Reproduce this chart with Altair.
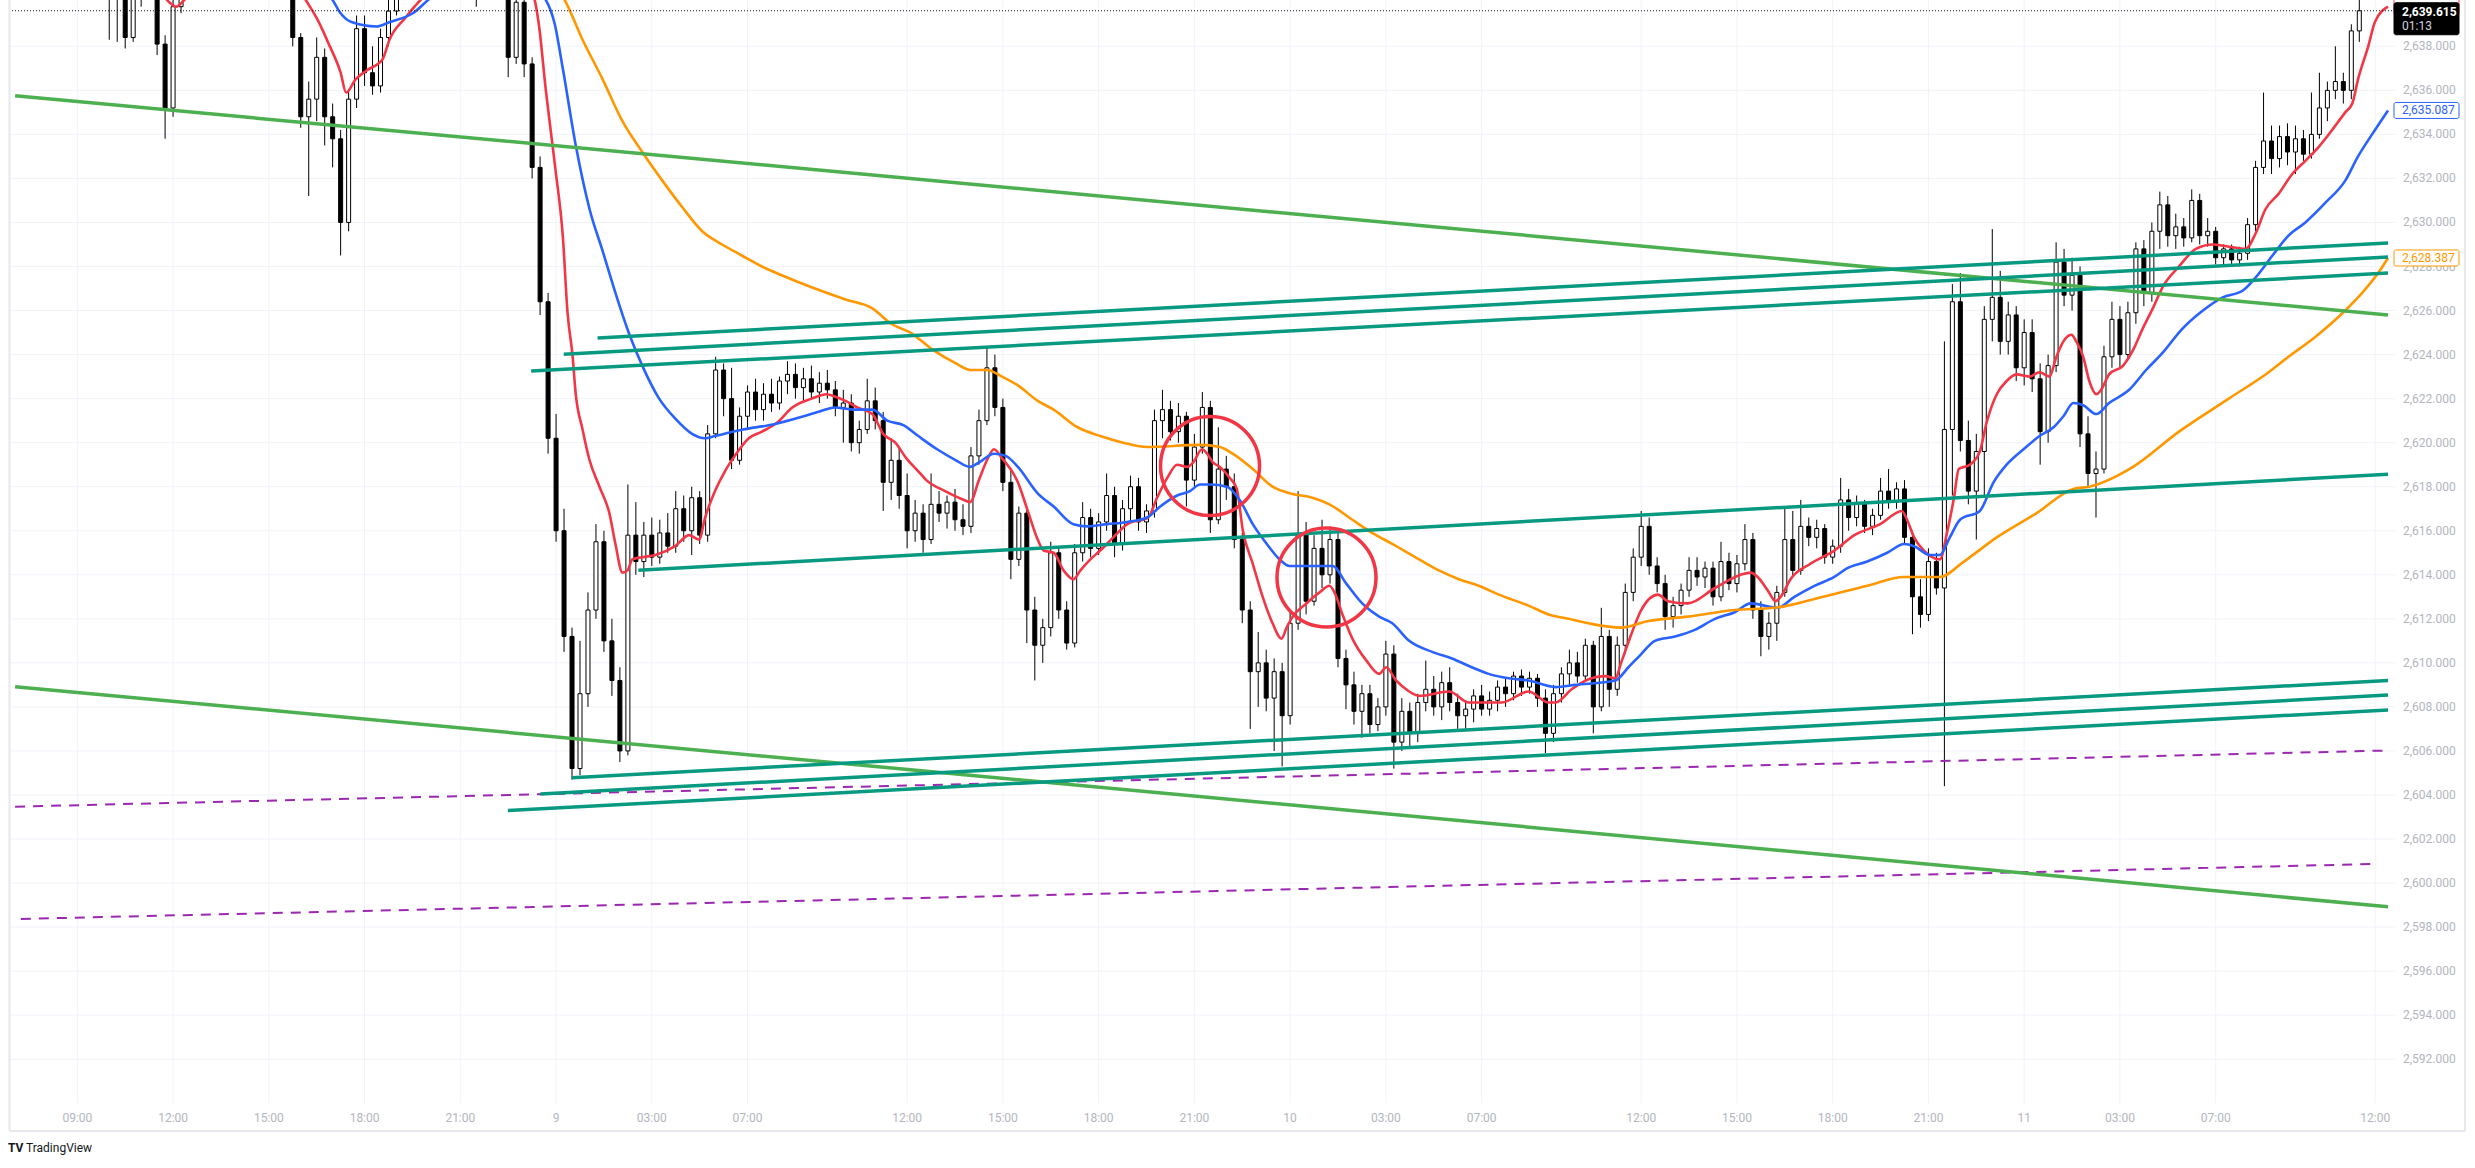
import altair as alt
import pandas as pd

# ---------------- values ----------------
# time axis: trading hours since 09:00 of day 8 (daily 1h break removed)
BAR_START_H = -1.75
BAR_STEP_H = 0.25
FIRST_OPEN = 2642.0

closes = [
    2641.6, 2642.0, 2641.2,
    2641.8, 2642.4, 2641.9, 2641.5,
    2641.0, 2641.4, 2641.1, 2640.8,
    2640.4, 2640.6, 2638.4, 2640.5,
    2640.6, 2640.9, 2638.1, 2635.2,
    2639.8, 2640.8, 2641.4, 2641.9,
    2642.5, 2642.0, 2642.6, 2643.0,
    2642.4, 2641.8, 2642.2, 2641.7,
    2641.2, 2641.5, 2640.8, 2638.4,
    2634.8, 2635.6, 2637.5, 2634.8,
    2633.8, 2630.0, 2635.6, 2638.8,
    2636.8, 2636.2, 2638.4, 2639.6,
    2640.8, 2641.4, 2641.9, 2642.3,
    2641.8, 2642.2, 2641.6, 2641.2,
    2641.5, 2641.0, 2640.6, 2641.2,
    2640.9, 2640.5, 2637.5, 2640.0,
    2637.2, 2632.5, 2626.4, 2620.2,
    2616.0, 2611.2, 2605.2, 2608.6,
    2612.4, 2615.5, 2611.0, 2609.2,
    2606.0, 2615.8, 2614.6, 2615.8,
    2614.8, 2615.9, 2615.3, 2617.0,
    2616.0, 2617.5, 2615.8, 2620.4,
    2623.3, 2622.0, 2619.2, 2621.2,
    2622.3, 2621.5, 2622.2, 2621.8,
    2622.8, 2623.1, 2622.5, 2622.9,
    2622.3, 2622.7, 2622.4, 2621.6,
    2621.8, 2620.0, 2620.6, 2621.9,
    2621.0, 2618.2, 2619.2, 2617.6,
    2616.0, 2616.8, 2615.6, 2617.2,
    2616.8, 2617.3, 2616.5, 2616.2,
    2619.4, 2621.0, 2623.4, 2621.6,
    2618.2, 2614.7, 2616.8, 2612.4,
    2610.8, 2611.6, 2615.0, 2612.4,
    2610.9, 2615.0, 2616.6, 2615.2,
    2616.4, 2617.6, 2615.4, 2617.0,
    2618.0, 2616.4, 2616.9, 2621.0,
    2621.5, 2620.5, 2621.2, 2618.3,
    2619.8, 2621.6, 2616.5, 2618.8,
    2618.0, 2615.6, 2612.4, 2609.6,
    2610.0, 2608.4, 2609.6, 2607.6,
    2611.8, 2615.8, 2612.8, 2615.2,
    2614.0, 2615.6, 2610.2, 2609.0,
    2607.8, 2608.6, 2607.2, 2608.0,
    2610.4, 2606.4, 2607.8, 2606.8,
    2608.2, 2608.8, 2608.0, 2609.1,
    2608.2, 2607.6, 2607.9, 2608.5,
    2607.9, 2608.3, 2608.9, 2608.6,
    2609.4, 2608.9, 2609.3, 2608.4,
    2606.8, 2608.6, 2609.5, 2610.0,
    2609.4, 2610.8, 2608.0, 2611.2,
    2608.8, 2610.8, 2613.2, 2614.8,
    2616.2, 2614.4, 2613.6, 2612.1,
    2612.6, 2613.3, 2614.2, 2613.9,
    2614.3, 2613.0, 2614.6, 2613.6,
    2614.5, 2615.6, 2612.4, 2611.2,
    2611.8, 2613.2, 2615.6, 2614.2,
    2616.2, 2615.7, 2616.1, 2614.8,
    2615.3, 2617.4, 2616.6, 2617.2,
    2616.2, 2616.7, 2617.8, 2617.3,
    2617.9, 2615.7, 2613.0, 2612.2,
    2614.6, 2613.4, 2620.6, 2626.4,
    2620.1, 2617.8, 2619.6, 2625.6,
    2626.6, 2624.6, 2625.8, 2623.4,
    2625.0, 2622.9, 2620.5, 2623.5,
    2628.2, 2626.7, 2627.6, 2620.4,
    2618.6, 2618.8, 2623.9, 2625.6,
    2624.0, 2625.9, 2628.8, 2626.8,
    2629.6, 2630.8, 2629.4, 2629.8,
    2629.3, 2631.0, 2629.4, 2629.6,
    2628.4, 2628.8, 2628.3, 2628.6,
    2629.9, 2632.5, 2633.7, 2632.9,
    2633.9, 2633.2, 2633.8, 2633.1,
    2634.0, 2635.2, 2636.0, 2636.4,
    2636.0, 2638.7, 2639.615,
]

highs = [
    2642.8, 2642.4, 2642.3,
    2642.5, 2643.0, 2642.8, 2642.2,
    2641.8, 2641.9, 2641.7, 2641.4,
    2641.2, 2641.0, 2641.0, 2640.8,
    2641.0, 2641.2, 2641.2, 2638.5,
    2640.3, 2641.2, 2641.9, 2642.6,
    2643.2, 2642.8, 2643.3, 2643.6,
    2643.2, 2642.6, 2642.8, 2642.5,
    2641.9, 2642.0, 2641.6, 2641.2,
    2638.6, 2636.4, 2638.4, 2637.9,
    2635.4, 2634.2, 2636.0, 2639.4,
    2639.4, 2638.0, 2638.8, 2640.3,
    2641.2, 2641.9, 2642.5, 2643.0,
    2642.6, 2642.8, 2642.5, 2641.9,
    2642.0, 2641.7, 2641.5, 2641.6,
    2641.5, 2641.2, 2640.8, 2640.6,
    2640.8, 2637.5, 2633.0, 2626.8,
    2621.3, 2617.0, 2611.6, 2611.0,
    2613.2, 2616.3, 2616.0, 2612.0,
    2609.8, 2618.1, 2617.3, 2616.4,
    2616.6, 2616.5, 2616.8, 2617.8,
    2617.6, 2618.0, 2617.8, 2620.8,
    2623.9, 2623.6, 2623.4, 2621.6,
    2622.6, 2622.9, 2622.7, 2622.9,
    2623.0, 2623.7, 2623.6, 2623.4,
    2623.5, 2623.2, 2623.3, 2622.8,
    2622.4, 2622.2, 2621.0, 2622.9,
    2622.5, 2621.4, 2620.2, 2619.8,
    2618.6, 2617.4, 2617.2, 2618.6,
    2617.8, 2617.6, 2617.9, 2617.2,
    2619.8, 2621.5, 2624.3, 2624.0,
    2622.0, 2618.8, 2617.1, 2617.0,
    2613.0, 2612.0, 2615.5, 2615.3,
    2612.8, 2615.4, 2617.3, 2617.0,
    2616.8, 2618.6, 2618.0, 2617.4,
    2618.5, 2618.4, 2617.2, 2621.5,
    2622.4, 2621.9, 2621.8, 2621.4,
    2620.4, 2622.3, 2621.9, 2620.7,
    2619.4, 2618.6, 2615.9, 2612.8,
    2611.4, 2610.6, 2610.2, 2610.0,
    2612.4, 2617.8, 2616.4, 2615.8,
    2616.5, 2616.2, 2616.0, 2610.6,
    2609.6, 2609.0, 2609.0, 2608.4,
    2611.0, 2610.8, 2608.4, 2608.2,
    2608.6, 2610.1, 2609.4, 2609.6,
    2609.8, 2608.6, 2608.3, 2608.8,
    2609.0, 2608.7, 2609.2, 2609.3,
    2609.6, 2609.7, 2609.6, 2609.5,
    2608.8, 2609.0, 2609.8, 2610.6,
    2610.5, 2611.1, 2611.0, 2612.5,
    2611.5, 2611.2, 2613.6, 2615.2,
    2616.9, 2616.6, 2614.8, 2614.0,
    2613.0, 2613.6, 2614.8, 2614.8,
    2614.6, 2614.6, 2615.5, 2615.0,
    2614.9, 2616.3, 2615.9, 2612.8,
    2612.3, 2613.5, 2617.0, 2616.9,
    2617.4, 2616.6, 2616.5, 2616.3,
    2615.6, 2618.4, 2617.9, 2617.6,
    2617.4, 2617.0, 2618.4, 2618.8,
    2618.2, 2618.3, 2616.0, 2613.8,
    2615.2, 2615.0, 2624.6, 2627.2,
    2627.7, 2621.0, 2620.4, 2626.2,
    2629.7, 2627.8, 2626.4, 2626.2,
    2625.6, 2625.6, 2623.6, 2624.0,
    2629.1, 2628.8, 2628.4, 2628.0,
    2621.2, 2619.6, 2624.4, 2626.4,
    2626.2, 2626.4, 2629.1, 2629.2,
    2630.0, 2631.4, 2631.2, 2630.4,
    2630.2, 2631.5, 2631.3, 2630.2,
    2629.8, 2629.0, 2629.0, 2628.9,
    2630.2, 2632.8, 2635.9, 2634.4,
    2634.4, 2634.5, 2634.4, 2634.2,
    2635.9, 2636.8, 2636.4, 2638.0,
    2636.8, 2639.0, 2640.6,
]

lows = [
    2641.0, 2640.9, 2640.8,
    2641.0, 2641.5, 2641.4, 2640.9,
    2640.6, 2640.7, 2640.6, 2640.4,
    2638.3, 2638.2, 2637.9, 2638.2,
    2639.8, 2640.2, 2637.6, 2633.8,
    2634.8, 2639.5, 2640.6, 2641.1,
    2641.6, 2641.5, 2641.8, 2642.2,
    2641.9, 2641.3, 2641.5, 2641.2,
    2640.7, 2640.8, 2640.4, 2638.0,
    2634.3, 2631.2, 2634.6, 2633.5,
    2632.5, 2628.5, 2629.6, 2635.2,
    2636.2, 2635.8, 2635.9, 2638.0,
    2639.4, 2640.5, 2641.0, 2641.5,
    2641.2, 2641.4, 2641.0, 2640.6,
    2640.8, 2640.5, 2639.8, 2640.4,
    2640.4, 2640.2, 2636.6, 2637.2,
    2636.6, 2632.0, 2625.8, 2619.5,
    2615.5, 2610.5, 2604.7, 2604.9,
    2608.0, 2612.0, 2610.5, 2608.5,
    2605.5, 2605.8, 2614.0, 2613.9,
    2614.4, 2614.5, 2615.0, 2615.0,
    2615.5, 2614.9, 2615.4, 2615.5,
    2620.2, 2621.2, 2618.8, 2619.0,
    2620.6, 2621.0, 2621.0, 2621.4,
    2621.5, 2622.2, 2622.0, 2621.9,
    2622.0, 2621.8, 2622.0, 2621.2,
    2620.0, 2619.6, 2619.5, 2620.4,
    2620.6, 2616.9, 2617.4, 2617.0,
    2615.2, 2615.5, 2615.0, 2615.4,
    2616.4, 2616.1, 2616.0, 2615.8,
    2615.9, 2619.0, 2620.8, 2621.2,
    2617.8, 2613.8, 2614.4, 2610.9,
    2609.2, 2610.0, 2611.2, 2612.0,
    2610.6, 2610.7, 2614.6, 2614.8,
    2614.9, 2616.0, 2614.8, 2615.1,
    2616.4, 2616.0, 2615.9, 2616.6,
    2620.2, 2620.1, 2620.0, 2617.1,
    2618.0, 2619.5, 2615.9, 2616.3,
    2617.4, 2615.2, 2611.8, 2607.0,
    2608.0, 2607.8, 2606.0, 2605.3,
    2607.2, 2611.5, 2612.2, 2612.6,
    2613.4, 2613.6, 2609.8, 2607.9,
    2607.2, 2606.6, 2606.8, 2606.9,
    2607.6, 2605.2, 2606.0, 2606.2,
    2606.4, 2607.8, 2607.6, 2607.4,
    2607.8, 2607.0, 2607.0, 2607.3,
    2607.6, 2607.6, 2607.8, 2608.0,
    2608.3, 2608.5, 2608.6, 2608.0,
    2605.9, 2606.4, 2608.2, 2609.0,
    2609.1, 2609.2, 2606.8, 2607.8,
    2608.0, 2608.5, 2610.4, 2612.8,
    2614.4, 2614.0, 2613.2, 2611.5,
    2611.6, 2612.2, 2613.0, 2613.5,
    2613.4, 2612.6, 2612.8, 2613.3,
    2613.2, 2614.2, 2612.0, 2610.3,
    2610.6, 2611.0, 2613.0, 2613.9,
    2614.0, 2615.3, 2615.2, 2614.5,
    2614.5, 2615.0, 2616.0, 2616.2,
    2615.9, 2615.8, 2616.5, 2617.0,
    2617.0, 2615.4, 2611.3, 2611.6,
    2611.9, 2613.1, 2604.4, 2617.6,
    2619.6, 2617.2, 2615.6, 2617.6,
    2624.6, 2624.0, 2624.0, 2622.8,
    2622.6, 2622.3, 2619.0, 2620.0,
    2623.2, 2626.2, 2626.0, 2619.8,
    2618.0, 2616.6, 2618.6, 2623.4,
    2623.4, 2623.8, 2625.4, 2626.2,
    2626.4, 2628.8, 2628.9, 2628.8,
    2628.9, 2629.1, 2629.0, 2628.9,
    2628.1, 2628.0, 2628.0, 2628.0,
    2628.3, 2629.6, 2632.2, 2632.2,
    2632.5, 2632.6, 2632.2, 2632.8,
    2632.9, 2633.8, 2634.6, 2635.6,
    2635.4, 2635.6, 2638.2,
]

# moving averages (hour, price)
red_ma = [
    (-1.95, 2641.5), (2.41, 2640.8), (2.88, 2640.0), (3.10, 2639.8), (3.35, 2640.1), (3.98, 2641.0),
    (6.78, 2641.0), (7.16, 2640.1), (7.53, 2639.2), (7.88, 2638.1), (8.25, 2636.8), (8.42, 2635.9),
    (8.72, 2636.5), (9.06, 2636.9), (9.56, 2637.4), (9.78, 2638.3), (10.28, 2639.3), (10.75, 2640.1),
    (11.46, 2641.0), (13.80, 2641.5), (14.33, 2640.1), (14.46, 2639.0), (14.68, 2636.0), (14.83, 2634.2),
    (14.99, 2632.3), (15.21, 2629.4), (15.36, 2625.9), (15.52, 2623.9), (15.61, 2622.3), (15.83, 2620.6),
    (16.05, 2619.2), (16.36, 2618.0), (16.67, 2616.8), (16.86, 2615.4), (17.08, 2614.1), (17.24, 2614.2),
    (17.39, 2614.7), (17.70, 2614.8), (18.11, 2614.9), (18.73, 2615.3), (19.17, 2615.8), (19.48, 2615.6),
    (19.67, 2616.6), (19.98, 2617.8), (20.29, 2618.7), (20.60, 2619.4), (21.04, 2620.2), (21.45, 2620.5),
    (21.92, 2620.9), (22.40, 2621.6), (23.01, 2622.0), (23.48, 2622.2), (23.73, 2622.1), (24.07, 2621.9),
    (24.44, 2621.6), (24.91, 2621.3), (25.25, 2620.4), (25.63, 2620.0), (25.97, 2619.3), (26.35, 2618.7),
    (26.60, 2618.3), (27.19, 2617.8), (27.78, 2617.4), (27.97, 2617.3), (28.25, 2618.3), (28.50, 2619.2),
    (28.72, 2619.7), (28.97, 2619.3), (29.47, 2618.2), (29.78, 2616.9), (30.09, 2615.6), (30.28, 2615.1),
    (30.59, 2615.0), (30.90, 2614.2), (31.21, 2613.8), (31.43, 2614.2), (31.74, 2614.7), (32.05, 2615.1),
    (32.46, 2615.7), (32.90, 2616.3), (33.55, 2616.6), (33.83, 2617.5), (34.15, 2618.4), (34.46, 2619.0),
    (34.77, 2618.9), (34.96, 2619.1), (35.24, 2619.7), (35.40, 2619.5), (35.58, 2619.1), (35.80, 2618.9),
    (36.11, 2618.4), (36.33, 2617.9), (36.52, 2616.0), (36.83, 2614.5), (37.14, 2613.0), (37.45, 2611.8),
    (37.73, 2611.1), (37.89, 2611.6), (38.08, 2612.1), (38.51, 2612.7), (38.92, 2613.2), (39.23, 2613.5),
    (39.39, 2613.2), (39.64, 2612.2), (39.95, 2611.1), (40.39, 2610.1), (40.79, 2609.5), (41.01, 2609.8),
    (41.32, 2609.2), (41.73, 2608.7), (42.04, 2608.5), (42.98, 2608.7), (43.60, 2608.2), (44.63, 2608.2),
    (45.47, 2608.7), (46.10, 2608.2), (46.32, 2608.2), (46.82, 2608.8), (47.44, 2609.3), (47.88, 2609.4),
    (48.19, 2609.3), (48.37, 2610.0), (48.69, 2611.3), (49.00, 2612.4), (49.53, 2613.1), (49.84, 2612.8),
    (50.46, 2612.7), (51.31, 2613.4), (52.12, 2614.0), (52.43, 2614.1), (52.65, 2613.9), (52.96, 2613.3),
    (53.21, 2612.8), (53.37, 2613.0), (53.68, 2613.8), (54.30, 2614.5), (55.05, 2615.1), (55.68, 2615.8),
    (56.49, 2616.3), (57.17, 2616.9), (57.33, 2616.5), (57.55, 2615.7), (57.86, 2615.1), (58.36, 2614.7),
    (58.58, 2615.9), (58.80, 2617.5), (58.95, 2618.8), (59.30, 2619.0), (59.61, 2619.6), (59.82, 2620.9),
    (60.14, 2622.2), (60.45, 2622.8), (60.76, 2623.1), (61.17, 2623.0), (61.48, 2623.2), (61.79, 2623.0),
    (62.01, 2623.9), (62.23, 2624.6), (62.48, 2624.9), (62.63, 2624.6), (62.85, 2623.9), (63.04, 2622.8),
    (63.26, 2622.2), (63.41, 2622.4), (63.66, 2623.1), (64.10, 2623.5), (64.41, 2624.2), (64.72, 2625.2),
    (65.03, 2626.1), (65.35, 2627.1), (65.85, 2628.0), (66.38, 2628.8), (66.91, 2629.0), (67.41, 2628.9),
    (67.94, 2628.8), (68.25, 2629.5), (68.56, 2630.6), (68.97, 2631.3), (69.40, 2632.2), (69.81, 2632.8),
    (70.21, 2633.4), (70.65, 2634.2), (71.06, 2635.0), (71.28, 2635.4), (71.46, 2636.5), (71.78, 2638.0),
    (71.99, 2639.1), (72.40, 2639.8),
]

blue_ma = [
    (-1.95, 2642.5), (7.10, 2641.2), (8.00, 2640.1), (8.25, 2639.5), (8.59, 2639.1), (9.37, 2638.9),
    (9.79, 2639.1), (10.51, 2639.5), (10.99, 2640.1), (11.62, 2640.8), (13.96, 2641.0), (14.68, 2640.1),
    (14.96, 2639.0), (15.21, 2637.0), (15.63, 2633.4), (16.05, 2630.6), (16.46, 2628.7), (16.86, 2626.8),
    (17.30, 2624.9), (17.70, 2623.5), (18.23, 2622.0), (18.73, 2621.1), (19.26, 2620.4), (19.67, 2620.2),
    (19.98, 2620.3), (20.85, 2620.6), (21.70, 2620.8), (22.51, 2621.1), (23.23, 2621.4), (23.73, 2621.6),
    (24.32, 2621.5), (24.91, 2621.5), (25.38, 2621.0), (25.88, 2620.8), (26.35, 2620.3), (26.94, 2619.7),
    (27.53, 2619.2), (27.97, 2618.9), (28.25, 2619.1), (28.72, 2619.5), (29.09, 2619.4), (29.47, 2618.9),
    (30.09, 2617.7), (30.59, 2617.1), (31.21, 2616.3), (31.65, 2616.2), (32.27, 2616.3), (32.90, 2616.4),
    (33.52, 2616.6), (33.93, 2617.1), (34.46, 2617.6), (34.86, 2617.8), (35.18, 2618.1), (35.49, 2618.1),
    (36.02, 2618.0), (36.42, 2617.4), (36.83, 2616.3), (37.27, 2615.4), (37.67, 2614.7), (37.98, 2614.4),
    (39.33, 2614.4), (39.76, 2613.6), (40.26, 2612.7), (40.79, 2612.1), (41.20, 2611.8), (41.73, 2611.0),
    (42.45, 2610.5), (43.07, 2610.2), (43.69, 2609.8), (44.22, 2609.5), (44.85, 2609.3), (45.47, 2609.2),
    (46.32, 2608.9), (46.94, 2609.0), (48.19, 2609.2), (48.60, 2609.8), (49.00, 2610.4), (49.43, 2611.0),
    (50.06, 2611.2), (50.68, 2611.5), (51.31, 2612.0), (51.93, 2612.3), (52.43, 2612.7), (53.27, 2612.5),
    (53.80, 2613.0), (54.43, 2613.5), (55.05, 2613.9), (55.46, 2614.3), (56.08, 2614.6), (56.71, 2615.0),
    (57.24, 2615.4), (57.55, 2615.3), (58.05, 2614.9), (58.36, 2614.9), (58.67, 2615.7), (58.99, 2616.5),
    (59.61, 2616.9), (60.04, 2618.2), (60.45, 2619.0), (60.98, 2619.7), (61.48, 2620.3), (61.92, 2620.7),
    (62.23, 2621.2), (62.54, 2621.8), (62.85, 2621.7), (63.26, 2621.3), (63.66, 2621.8), (64.29, 2622.4),
    (64.82, 2623.3), (65.35, 2624.1), (65.91, 2625.1), (66.60, 2626.0), (67.22, 2626.6), (67.84, 2626.9),
    (68.25, 2627.5), (68.78, 2628.5), (69.28, 2629.4), (69.81, 2630.0), (70.44, 2630.9), (71.06, 2631.9),
    (71.46, 2633.0), (71.90, 2634.0), (72.40, 2635.087),
]

orange_ma = [
    (13.34, 2642.5), (14.59, 2641.3), (15.27, 2640.1), (15.83, 2638.3), (16.46, 2636.5), (17.08, 2634.6),
    (17.70, 2633.2), (18.33, 2631.9), (18.95, 2630.7), (19.58, 2629.6), (20.20, 2629.0), (20.82, 2628.5),
    (21.45, 2628.0), (22.07, 2627.6), (24.07, 2626.5), (24.91, 2626.1), (25.50, 2625.4), (26.10, 2625.0),
    (26.82, 2624.2), (27.53, 2623.6), (28.00, 2623.3), (28.50, 2623.3), (28.97, 2623.0), (29.47, 2622.6),
    (30.09, 2621.9), (30.59, 2621.5), (31.34, 2620.7), (32.05, 2620.3), (32.77, 2620.0), (33.52, 2619.8),
    (35.18, 2619.9), (35.80, 2619.8), (36.20, 2619.5), (36.83, 2618.8), (37.45, 2618.0), (37.98, 2617.7),
    (38.70, 2617.5), (39.23, 2617.2), (39.95, 2616.5), (40.57, 2615.9), (41.20, 2615.4), (42.04, 2614.7),
    (42.66, 2614.2), (43.29, 2613.8), (43.91, 2613.5), (44.54, 2613.1), (45.47, 2612.6), (46.10, 2612.2),
    (46.72, 2612.0), (47.34, 2611.8), (48.37, 2611.6), (49.22, 2611.9), (50.46, 2612.1), (51.93, 2612.4),
    (53.18, 2612.5), (54.43, 2612.9), (56.08, 2613.5), (57.24, 2613.9), (58.36, 2613.9), (59.11, 2614.6),
    (60.14, 2615.7), (61.39, 2616.8), (62.54, 2617.9), (63.04, 2618.0), (64.41, 2618.9), (65.85, 2620.5),
    (67.41, 2622.0), (68.66, 2623.2), (69.28, 2623.9), (70.12, 2624.8), (71.06, 2626.0), (71.59, 2626.8),
    (72.09, 2627.7), (72.40, 2628.387),
]

# drawn trend lines: (h1, price1, h2, price2)
teal_lines = [
    (16.30, 2624.75, 72.40, 2629.07),
    (15.24, 2624.02, 72.40, 2628.43),
    (14.22, 2623.25, 72.40, 2627.70),
    (17.58, 2614.21, 72.40, 2618.57),
    (15.49, 2604.78, 72.40, 2609.20),
    (14.51, 2604.04, 72.40, 2608.54),
    (13.49, 2603.29, 72.40, 2607.86),
]
green_lines = [
    (-1.95, 2635.75, 72.40, 2625.80),
    (-1.95, 2608.92, 72.40, 2598.92),
]
purple_lines = [
    (-1.95, 2603.47, 72.40, 2606.02),
    (-1.77, 2598.37, 72.09, 2600.87),
]
circle_h = [35.49, 39.14]
circle_v = [2618.94, 2613.88]

tick_h = [0, 3, 6, 9, 12, 15, 18, 21, 26, 29, 32, 35, 38, 41, 44, 49, 52, 55, 58, 61, 64, 67, 72]
tick_text = ["09:00", "12:00", "15:00", "18:00", "21:00", "9", "03:00", "07:00",
             "12:00", "15:00", "18:00", "21:00", "10", "03:00", "07:00",
             "12:00", "15:00", "18:00", "21:00", "11", "03:00", "07:00", "12:00"]
price_ticks = list(range(2592, 2640, 2))

last_price = 2639.615
countdown = "01:13"
blue_last = 2635.087
orange_last = 2628.387
red_last = 2639.8

# ---------------- layout ----------------
W, H = 2385, 1103
X_MIN, X_MAX = -1.953, 72.462
Y_MIN, Y_MAX = 2590.012, 2640.103
xs = alt.Scale(domain=[X_MIN, X_MAX], nice=False, zero=False)
ys = alt.Scale(domain=[Y_MIN, Y_MAX], nice=False, zero=False)
FONT = "Roboto"
LABEL = "#b2b5be"
GRID = "#f0f3fa"

# ---------------- tables ----------------
rows = []
prev = FIRST_OPEN
for i, (c, hi, lo) in enumerate(zip(closes, highs, lows)):
    o = prev
    rows.append({"h": BAR_START_H + i * BAR_STEP_H, "open": o, "close": c,
                 "high": max(hi, o, c), "low": min(lo, o, c),
                 "dir": "up" if c >= o else "down"})
    prev = c
candles = pd.DataFrame(rows)

ma_rows = []
for name, pts in (("red", red_ma), ("blue", blue_ma), ("orange", orange_ma)):
    for h, v in pts:
        ma_rows.append({"ma": name, "h": h, "v": v})
ma_df = pd.DataFrame(ma_rows)


def seg_df(lines):
    return pd.DataFrame([{"id": k, "h1": a, "v1": b, "h2": c, "v2": d}
                         for k, (a, b, c, d) in enumerate(lines)])


X = lambda f: alt.X(f, scale=xs, axis=None)
Y = lambda f: alt.Y(f, scale=ys, axis=None)

# grid + price scale labels
hgrid = alt.Chart(pd.DataFrame({"v": price_ticks})).mark_rule(color=GRID, strokeWidth=1).encode(y=Y("v:Q"))
vgrid = alt.Chart(pd.DataFrame({"h": tick_h})).mark_rule(color=GRID, strokeWidth=1).encode(x=X("h:Q"))
price_labels = alt.Chart(pd.DataFrame({"v": price_ticks})).mark_text(
    align="left", baseline="middle", font=FONT, fontSize=12, color=LABEL
).encode(x=alt.value(W + 8), y=Y("v:Q"), text=alt.Text("v:Q", format=",.3f"))

wicks = alt.Chart(candles).mark_rule(color="#000000", strokeWidth=1, clip=True).encode(
    x=X("h:Q"), y=Y("low:Q"), y2="high:Q",
)
bodies = alt.Chart(candles).mark_bar(size=4, stroke="#000000", strokeWidth=1, clip=True).encode(
    x=X("h:Q"), y=Y("open:Q"), y2="close:Q",
    fill=alt.Fill("dir:N", scale=alt.Scale(domain=["up", "down"], range=["#ffffff", "#000000"]), legend=None),
)
mas = alt.Chart(ma_df).mark_line(strokeWidth=2.6, clip=True, interpolate="monotone").encode(
    x=X("h:Q"), y=Y("v:Q"),
    color=alt.Color("ma:N", scale=alt.Scale(domain=["orange", "blue", "red"],
                                            range=["#ff9800", "#2962ff", "#f23645"]), legend=None),
    detail="ma:N",
)


def seg_layer(lines, color, width, dash=None):
    kw = dict(color=color, strokeWidth=width, clip=True)
    if dash:
        kw["strokeDash"] = dash
    return alt.Chart(seg_df(lines)).mark_rule(**kw).encode(
        x=X("h1:Q"), x2="h2:Q", y=Y("v1:Q"), y2="v2:Q",
    )


purple = seg_layer(purple_lines, "#9c27b0", 2, [10, 8])
green = seg_layer(green_lines, "#4caf50", 3.5)
teal = seg_layer(teal_lines, "#089981", 3.5)

circles = alt.Chart(pd.DataFrame({"h": circle_h, "v": circle_v})).mark_point(
    shape="circle", size=9800, filled=False, stroke="#f23645", strokeWidth=3.5, opacity=1, clip=True
).encode(x=X("h:Q"), y=Y("v:Q"))

price_line = alt.Chart(pd.DataFrame({"v": [last_price]})).mark_rule(
    color="#131722", strokeWidth=1, strokeDash=[1, 2]
).encode(y=Y("v:Q"))


# price tags on the scale
def tag(value, stroke, fill, top, bottom):
    return alt.Chart(pd.DataFrame({"v": [value], "v2": [value]})).mark_rect(
        fill=fill, stroke=stroke, strokeWidth=1, cornerRadius=2, yOffset=top, y2Offset=bottom
    ).encode(x=alt.value(W - 1), x2=alt.value(W + 64), y=Y("v:Q"), y2="v2:Q")


def tag_text(value, txt, color, dy, bold=False):
    return alt.Chart(pd.DataFrame({"v": [value], "t": [txt]})).mark_text(
        align="left", baseline="middle", font=FONT, fontSize=12, color=color,
        fontWeight="bold" if bold else "normal", dy=dy
    ).encode(x=alt.value(W + 7), y=Y("v:Q"), text="t:N")


red_tag = tag(red_last, "#f23645", "#ffffff", -8, 8)
black_tag = tag(last_price, "#000000", "#000000", -8, 24)
black_t1 = tag_text(last_price, f"{last_price:,.3f}", "#ffffff", 1, bold=True)
black_t2 = tag_text(last_price, countdown, "#d1d4dc", 15)
blue_tag = tag(blue_last, "#2962ff", "#ffffff", -8, 8)
blue_t = tag_text(blue_last, f"{blue_last:,.3f}", "#2962ff", 0)
orange_tag = tag(orange_last, "#ff9800", "#ffffff", -8, 8)
orange_t = tag_text(orange_last, f"{orange_last:,.3f}", "#ff9800", 0)

time_labels = alt.Chart(pd.DataFrame({"h": tick_h, "t": tick_text})).mark_text(
    align="center", baseline="middle", font=FONT, fontSize=12, color=LABEL
).encode(x=X("h:Q"), y=alt.value(1118), text="t:N")

frame_df = pd.DataFrame({"x": [-0.5, -0.5, W + 70], "x2": [-0.5, W + 70, W + 70],
                         "y": [0, 1131, 0], "y2": [1131, 1131, 1131]})
frame = alt.Chart(frame_df).mark_rule(color="#e6e8ee", strokeWidth=2).encode(
    x=alt.X("x:Q", scale=None, axis=None), x2="x2:Q",
    y=alt.Y("y:Q", scale=None, axis=None), y2="y2:Q",
)

logo = alt.Chart(pd.DataFrame({"t": ["TV"]})).mark_text(
    align="left", baseline="middle", font=FONT, fontSize=12, fontWeight="bold", color="#131722"
).encode(x=alt.value(-2), y=alt.value(1148), text="t:N")
logo_text = alt.Chart(pd.DataFrame({"t": ["TradingView"]})).mark_text(
    align="left", baseline="middle", font=FONT, fontSize=12, color="#131722"
).encode(x=alt.value(16), y=alt.value(1148), text="t:N")

chart = alt.layer(
    hgrid, vgrid, price_labels,
    wicks, bodies, mas, purple, green, teal, circles, price_line,
    red_tag, black_tag, black_t1, black_t2, blue_tag, blue_t, orange_tag, orange_t,
    time_labels, frame, logo, logo_text,
).properties(
    width=W, height=H,
    padding={"left": 10, "top": 0, "right": 80, "bottom": 65},
    autosize=alt.AutoSizeParams(type="none"),
    background="#ffffff",
).configure_view(strokeWidth=0)

chart.save("out.html", embed_options={"renderer": "svg", "actions": False})
